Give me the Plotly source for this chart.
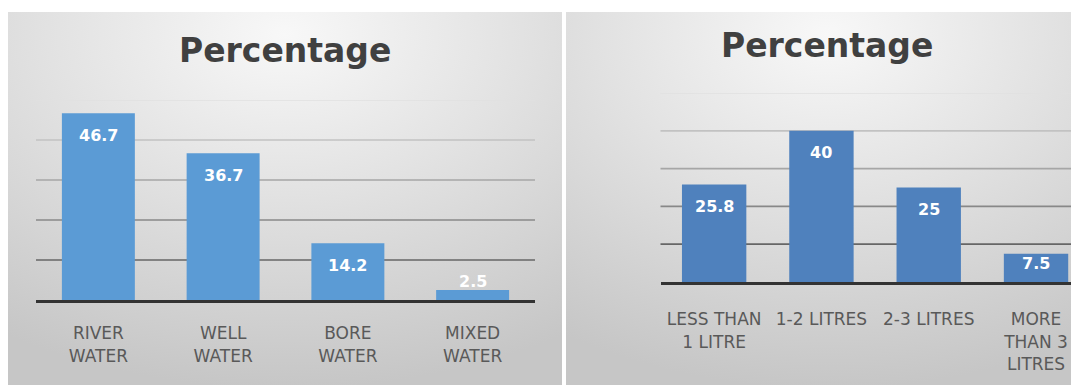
import base64
import plotly.graph_objects as go

W, H = 1071, 385

# Source of drinking water (%)
source_labels = ["RIVER<br>WATER", "WELL<br>WATER", "BORE<br>WATER", "MIXED<br>WATER"]
source_pct = [46.7, 36.7, 14.2, 2.5]

# Daily water intake (%)
intake_labels = ["LESS THAN<br>1 LITRE", "1-2 LITRES", "2-3 LITRES", "MORE<br>THAN 3<br>LITRES"]
intake_pct = [25.8, 40, 25, 7.5]

grid_values = [10, 20, 30, 40, 50]
grid_colors = ["#666666", "#888888", "#a6a6a6", "#c2c2c2", "#e0e0e0"]

FONT = "DejaVu Sans"


def px(x):
    return x / W


def py(y):
    return 1 - y / H


def panel_background():
    svg = (
        '<svg xmlns="http://www.w3.org/2000/svg" width="100" height="100" '
        'viewBox="0 0 100 100" preserveAspectRatio="none"><defs>'
        '<radialGradient id="g" cx="0.5" cy="0.06" r="0.95" fx="0.5" fy="0.06">'
        '<stop offset="0" stop-color="#f8f8f8"/>'
        '<stop offset="0.45" stop-color="#e2e2e2"/>'
        '<stop offset="1" stop-color="#c6c6c6"/>'
        '</radialGradient></defs>'
        '<rect width="100" height="100" fill="url(#g)"/></svg>'
    )
    return "data:image/svg+xml;base64," + base64.b64encode(svg.encode()).decode()


fig = go.Figure()

fig.add_trace(go.Bar(
    x=source_labels, y=source_pct, width=0.585,
    marker=dict(color="#5b9bd5", line=dict(width=0)),
    xaxis="x", yaxis="y", hoverinfo="skip",
))
fig.add_trace(go.Bar(
    x=intake_labels, y=intake_pct, width=0.6,
    marker=dict(color="#4f81bd", line=dict(width=0)),
    xaxis="x2", yaxis="y2", hoverinfo="skip",
))

annotations = []
shapes = []

# Value labels: near the top inside tall bars, resting on the axis for short ones
for labels, values, xr, yr in ((source_labels, source_pct, "x", "y"),
                               (intake_labels, intake_pct, "x2", "y2")):
    for cat, v in zip(labels, values):
        tall = v >= 11
        annotations.append(dict(
            x=cat, y=v if tall else 0, xref=xr, yref=yr,
            text=f"<b>{v:g}</b>", showarrow=False,
            yanchor="middle", yshift=-22 if tall else 19,
            font=dict(family=FONT, size=16, color="white"),
        ))
    for gv, gc in zip(grid_values, grid_colors):
        shapes.append(dict(
            type="line", xref=f"{xr} domain", yref=yr,
            x0=0, x1=1, y0=gv, y1=gv, layer="below",
            line=dict(color=gc, width=1.7),
        ))

# Chart titles
for cx, cy in ((285, 50), (827, 45)):
    annotations.append(dict(
        x=px(cx), y=py(cy), xref="paper", yref="paper",
        text="<b>Percentage</b>", showarrow=False,
        xanchor="center", yanchor="middle",
        font=dict(family=FONT, size=33, color="#404040"),
    ))

images = [
    dict(source=panel_background(), xref="paper", yref="paper",
         x=px(8), y=py(12), sizex=px(562 - 8), sizey=(385 - 12) / H,
         xanchor="left", yanchor="top", sizing="stretch", layer="below"),
    dict(source=panel_background(), xref="paper", yref="paper",
         x=px(566), y=py(12), sizex=px(1090 - 566), sizey=(385 - 12) / H,
         xanchor="left", yanchor="top", sizing="stretch", layer="below"),
]

tick_font = dict(family=FONT, size=17, color="#595959")
xcommon = dict(type="category", showgrid=False, showline=True, linecolor="#333333",
               linewidth=3, ticks="", tickfont=tick_font,
               ticklabeloverflow="allow", fixedrange=True)
ycommon = dict(range=[0, 50], showgrid=False, showticklabels=False, zeroline=False,
               showline=False, ticks="", fixedrange=True)

fig.update_layout(
    width=W, height=H,
    margin=dict(l=0, r=0, t=0, b=0),
    paper_bgcolor="white",
    plot_bgcolor="rgba(0,0,0,0)",
    showlegend=False,
    xaxis=dict(domain=[px(36), px(535)], range=[-0.5, 3.5], anchor="y",
               ticklabelstandoff=16, **xcommon),
    yaxis=dict(domain=[py(300), py(100)], anchor="x", **ycommon),
    xaxis2=dict(domain=[px(660.5), 1], range=[-0.5, 3.326], anchor="y2",
                ticklabelstandoff=20, **xcommon),
    yaxis2=dict(domain=[py(282), py(93)], anchor="x2", **ycommon),
    annotations=annotations,
    shapes=shapes,
    images=images,
)

fig.write_html("out.html")
